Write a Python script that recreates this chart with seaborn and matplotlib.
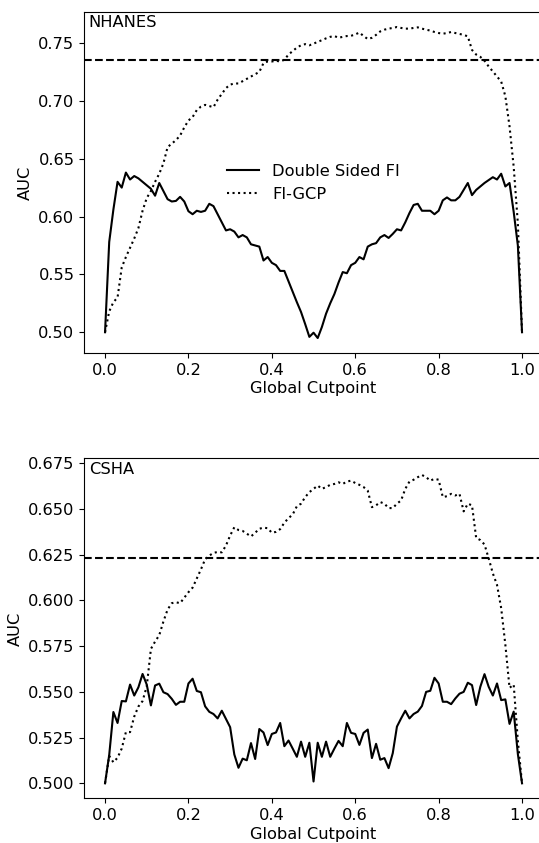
import numpy as np
import pandas as pd
import matplotlib
matplotlib.use("Agg")
import matplotlib.pyplot as plt
import seaborn as sns

plt.rcParams["font.size"] = 11.7

cutpoints = [round(i * 0.01, 2) for i in range(101)]

nhanes_double = [
    0.500, 0.578, 0.606, 0.630, 0.625, 0.638, 0.632, 0.635, 0.633, 0.630,
    0.627, 0.624, 0.618, 0.629, 0.622, 0.615, 0.613, 0.6135, 0.617, 0.613,
    0.6046, 0.602, 0.605, 0.604, 0.605, 0.611, 0.609, 0.602, 0.595, 0.588,
    0.589, 0.587, 0.582, 0.584, 0.582, 0.576, 0.575, 0.574, 0.562, 0.565,
    0.560, 0.558, 0.553, 0.553, 0.544, 0.535, 0.526, 0.5175, 0.507, 0.496,
    0.4996, 0.495, 0.5045, 0.516, 0.525, 0.533, 0.543, 0.552, 0.551, 0.558,
    0.560, 0.565, 0.563, 0.574, 0.576, 0.577, 0.582, 0.584, 0.5815, 0.585,
    0.589, 0.588, 0.595, 0.603, 0.610, 0.611, 0.605, 0.605, 0.605, 0.602,
    0.605, 0.614, 0.6165, 0.614, 0.614, 0.617, 0.623, 0.629, 0.6185, 0.623,
    0.626, 0.629, 0.6315, 0.634, 0.632, 0.637, 0.626, 0.629, 0.604, 0.575,
    0.500,
]
nhanes_gcp = [
    0.500, 0.518, 0.526, 0.530, 0.556, 0.565, 0.573, 0.581, 0.590, 0.605,
    0.616, 0.622, 0.630, 0.637, 0.646, 0.660, 0.663, 0.666, 0.670, 0.677,
    0.683, 0.686, 0.692, 0.695, 0.6965, 0.6955, 0.6945, 0.701, 0.706, 0.711,
    0.714, 0.715, 0.715, 0.717, 0.719, 0.721, 0.723, 0.725, 0.7326, 0.734,
    0.734, 0.7346, 0.734, 0.7355, 0.740, 0.743, 0.746, 0.748, 0.749, 0.748,
    0.7494, 0.751, 0.7524, 0.754, 0.7553, 0.756, 0.7545, 0.7553, 0.756, 0.7562,
    0.7574, 0.759, 0.756, 0.7534, 0.7545, 0.757, 0.760, 0.7615, 0.7624, 0.763,
    0.7638, 0.763, 0.7624, 0.7624, 0.763, 0.7635, 0.7624, 0.7615, 0.7607, 0.7595,
    0.7586, 0.758, 0.7586, 0.7595, 0.7586, 0.7578, 0.757, 0.7557, 0.744, 0.740,
    0.738, 0.7346, 0.7297, 0.7254, 0.721, 0.7167, 0.704, 0.678, 0.643, 0.594,
    0.500,
]
csha_double = [
    0.500, 0.5155, 0.539, 0.533, 0.545, 0.5448, 0.554, 0.548, 0.5525, 0.5598,
    0.554, 0.5426, 0.5535, 0.5545, 0.5498, 0.5488, 0.5462, 0.5429, 0.5446, 0.5446,
    0.5546, 0.5572, 0.5505, 0.5498, 0.5421, 0.5391, 0.5379, 0.5355, 0.5397, 0.5352,
    0.5307, 0.5158, 0.5085, 0.5135, 0.5126, 0.522, 0.5133, 0.5297, 0.5278, 0.5209,
    0.527, 0.5278, 0.533, 0.5203, 0.5234, 0.519, 0.5145, 0.5228, 0.5145, 0.5222,
    0.501, 0.5222, 0.5145, 0.5228, 0.5145, 0.519, 0.5232, 0.5203, 0.533, 0.5276,
    0.527, 0.521, 0.5276, 0.5294, 0.5138, 0.5216, 0.5129, 0.5138, 0.5083, 0.5165,
    0.531, 0.5355, 0.5397, 0.5355, 0.5379, 0.5392, 0.5423, 0.550, 0.5506, 0.5577,
    0.5546, 0.5446, 0.5446, 0.5433, 0.5464, 0.549, 0.550, 0.555, 0.5537, 0.5428,
    0.5528, 0.5597, 0.5528, 0.548, 0.5546, 0.5455, 0.5459, 0.5325, 0.5392, 0.516,
    0.500,
]
csha_gcp = [
    0.500, 0.515, 0.5115, 0.514, 0.519, 0.528, 0.528, 0.5365, 0.542, 0.545,
    0.553, 0.5735, 0.5775, 0.581, 0.5885, 0.595, 0.5985, 0.599, 0.5985, 0.6015,
    0.6045, 0.607, 0.612, 0.617, 0.6225, 0.6245, 0.626, 0.6265, 0.6263, 0.630,
    0.6355, 0.640, 0.6385, 0.638, 0.6365, 0.635, 0.637, 0.6392, 0.6398, 0.6395,
    0.637, 0.6375, 0.639, 0.6425, 0.645, 0.647, 0.6515, 0.6529, 0.6565, 0.6592,
    0.661, 0.6628, 0.661, 0.662, 0.6632, 0.6637, 0.6646, 0.6637, 0.665, 0.6655,
    0.6642, 0.6632, 0.662, 0.660, 0.651, 0.652, 0.6538, 0.6529, 0.6505, 0.6505,
    0.6529, 0.6547, 0.661, 0.665, 0.666, 0.6674, 0.6686, 0.6674, 0.6655, 0.6665,
    0.666, 0.6565, 0.657, 0.6583, 0.6574, 0.6583, 0.6487, 0.6529, 0.652, 0.6342,
    0.633, 0.6306, 0.623, 0.6148, 0.6085, 0.5958, 0.5758, 0.5522, 0.554, 0.5232,
    0.500,
]

datasets = ["NHANES", "CSHA"]
baselines = [0.735, 0.623]
series_names = ["Double Sided FI", "FI-GCP"]
ylims = [(0.4818, 0.7768), (0.4918, 0.6777)]

fig = plt.figure(figsize=(5.39, 8.43), dpi=100)
ax_top = fig.add_axes([0.1562, 0.5809, 0.851, 0.4049])
ax_bot = fig.add_axes([0.1562, 0.0530, 0.851, 0.4033])

panels = [
    (ax_top, nhanes_double, nhanes_gcp),
    (ax_bot, csha_double, csha_gcp),
]

for i, (ax, dbl, gcp) in enumerate(panels):
    sns.lineplot(x=cutpoints, y=dbl, ax=ax, color="black", linestyle="-",
                 linewidth=1.5, label=series_names[0], estimator=None)
    sns.lineplot(x=cutpoints, y=gcp, ax=ax, color="black", linestyle=":",
                 linewidth=1.5, label=series_names[1], estimator=None)
    ax.axhline(baselines[i], color="black", linestyle="--", linewidth=1.5)
    ax.set_xlim(-0.05, 1.05)
    ax.set_ylim(*ylims[i])
    ax.set_xlabel("Global Cutpoint", labelpad=2.5)
    ax.set_ylabel("AUC")
    ax.text(0.01, 0.99, datasets[i], transform=ax.transAxes,
            ha="left", va="top")
    if i == 0:
        ax.legend(loc="center", frameon=False)
    else:
        leg = ax.get_legend()
        if leg is not None:
            leg.remove()

ax_top.set_yticks([0.50, 0.55, 0.60, 0.65, 0.70, 0.75])
ax_bot.set_yticks([0.500, 0.525, 0.550, 0.575, 0.600, 0.625, 0.650, 0.675])
ax_top.set_yticklabels(["0.50", "0.55", "0.60", "0.65", "0.70", "0.75"])
ax_bot.set_yticklabels(["0.500", "0.525", "0.550", "0.575", "0.600", "0.625", "0.650", "0.675"])

fig.savefig("out.png", dpi=100)
